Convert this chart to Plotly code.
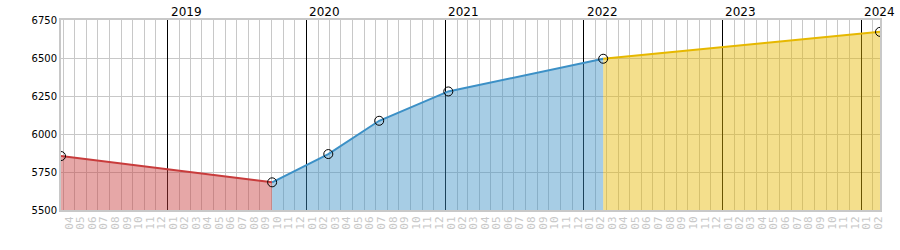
import plotly.graph_objects as go

# Data
point_dates = ["2018-03-26", "2019-10-03", "2020-02-28", "2020-07-11",
               "2021-01-09", "2022-02-21", "2024-02-20"]
point_values = [5855, 5682, 5868, 6087, 6280, 6495, 6672]

segment_ranges = [(0, 1), (1, 5), (5, 6)]
segment_lines = ["#c83c3c", "#3c90c6", "#e6b800"]
segment_fills = ["rgba(200,60,60,0.45)", "rgba(60,144,198,0.45)", "rgba(230,184,0,0.45)"]

year_labels = ["2019", "2020", "2021", "2022", "2023", "2024"]
year_dates = ["2019-01-01", "2020-01-01", "2021-01-01", "2022-01-01", "2023-01-01", "2024-01-01"]
y_ticks = [5500, 5750, 6000, 6250, 6500, 6750]
x_range = ["2018-03-26", "2024-02-20"]

fig = go.Figure()
for (a, b), lc, fc in zip(segment_ranges, segment_lines, segment_fills):
    fig.add_trace(go.Scatter(
        x=point_dates[a:b + 1], y=point_values[a:b + 1],
        mode="lines", line=dict(color=lc, width=2),
        fill="tozeroy", fillcolor=fc, showlegend=False, hoverinfo="skip"))

fig.add_trace(go.Scatter(
    x=point_dates, y=point_values, mode="markers",
    marker=dict(symbol="circle-open", size=9, color="black", line=dict(width=1, color="black")),
    showlegend=False))

# invisible trace on the overlay axis carrying the yearly black grid
fig.add_trace(go.Scatter(x=x_range, y=[None, None], xaxis="x2", mode="lines",
                         showlegend=False, hoverinfo="skip"))

for yd, yl in zip(year_dates, year_labels):
    fig.add_annotation(x=yd, y=1, xref="x", yref="paper", text=yl, showarrow=False,
                       xanchor="left", yanchor="bottom", xshift=1, yshift=-1,
                       font=dict(family="DejaVu Sans", size=12, color="black"))

fig.update_layout(
    width=900, height=250,
    margin=dict(l=61, r=20, t=20, b=40),
    paper_bgcolor="white", plot_bgcolor="white",
    font=dict(family="DejaVu Sans", size=10, color="black"),
    xaxis=dict(
        type="date", range=x_range,
        dtick="M1", tick0="2018-01-01", tickformat="%m", ticklabelmode="period",
        tickangle=-90, showgrid=True, gridcolor="#c8c8c8", gridwidth=1,
        showline=True, linecolor="#c8c8c8", linewidth=2, mirror=True,
        tickfont=dict(family="DejaVu Sans Mono", size=11, color="#c8c8c8"),
        ticks="", zeroline=False),
    xaxis2=dict(
        type="date", range=x_range, overlaying="x", side="top", matches="x",
        dtick="M12", tick0="2019-01-01", showticklabels=False, ticks="",
        showgrid=True, gridcolor="black", gridwidth=1, showline=False, zeroline=False),
    yaxis=dict(
        range=[5500, 6750], tickvals=y_ticks, showgrid=True, gridcolor="#c8c8c8",
        showline=True, linecolor="#c8c8c8", linewidth=2, mirror=True,
        ticks="", zeroline=False,
        tickfont=dict(family="DejaVu Sans", size=10, color="black")),
)

fig.write_html("out.html")
